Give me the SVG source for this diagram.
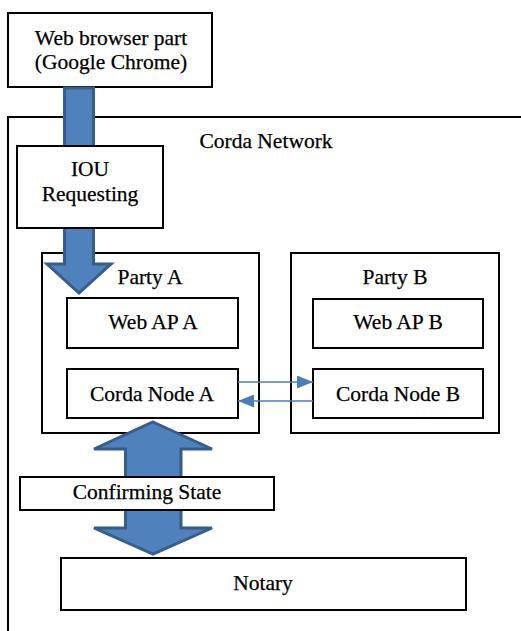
<svg xmlns="http://www.w3.org/2000/svg" width="521" height="631" viewBox="0 0 521 631">
  <style>
    .box { fill: #ffffff; stroke: #000000; stroke-width: 2; }
    .frame { fill: none; stroke: #000000; stroke-width: 2; }
    .lbl { font-size: 21.5px; fill: #000000; stroke: #000000; stroke-width: 0.25; text-anchor: middle; }
    .block { fill: #4F81BD; stroke: #385D8A; stroke-width: 3; stroke-linejoin: miter; }
    .link { stroke: #4A7EBB; stroke-width: 1.6; fill: none; }
  </style>
  <defs>
    <marker id="head" markerUnits="userSpaceOnUse" markerWidth="16" markerHeight="13" refX="16" refY="6.5" orient="auto">
      <path d="M0,0 L16,6.5 L0,13 Z" fill="#4A7EBB"/>
    </marker>
  </defs>

  <g font-family="Liberation Serif, Times New Roman, serif">
  <!-- Corda Network frame (runs off the right and bottom edges) -->
  <g id="corda-network">
    <rect class="frame" x="8" y="117" width="540" height="540"/>
    <text class="lbl" x="266" y="148">Corda Network</text>
  </g>

  <g id="web-browser">
    <rect class="box" x="8" y="13" width="204" height="74"/>
    <text class="lbl" x="111" y="45">Web browser part</text>
    <text class="lbl" x="111" y="69">(Google Chrome)</text>
  </g>

  <g id="party-a">
    <rect class="box" x="42" y="253" width="217" height="180"/>
    <text class="lbl" x="150" y="284">Party A</text>
  </g>

  <g id="party-b">
    <rect class="box" x="291" y="253" width="208" height="180"/>
    <text class="lbl" x="395" y="284">Party B</text>
  </g>

  <g id="web-ap-a">
    <rect class="box" x="67" y="298" width="171" height="50"/>
    <text class="lbl" x="153" y="329">Web AP A</text>
  </g>

  <g id="web-ap-b">
    <rect class="box" x="313" y="299" width="170" height="49"/>
    <text class="lbl" x="398" y="329">Web AP B</text>
  </g>

  <g id="corda-node-a">
    <rect class="box" x="67" y="369" width="171" height="49"/>
    <text class="lbl" x="152" y="401">Corda Node A</text>
  </g>

  <g id="corda-node-b">
    <rect class="box" x="313" y="369" width="170" height="49"/>
    <text class="lbl" x="398" y="401">Corda Node B</text>
  </g>

  <g id="connectors">
    <!-- request flow from the browser down into Party A -->
    <polygon class="block" points="64.5,88 93.5,88 93.5,264 111,264 79,293 47,264 64.5,264"/>
    <!-- two-way exchange between Party A and the Notary -->
    <polygon class="block" points="153,422 212,449 181,449 181,528 212,528 153,554 94,528 125.5,528 125.5,449 94,449"/>
    <!-- node-to-node messages -->
    <line class="link" x1="238" y1="382" x2="313" y2="382" marker-end="url(#head)"/>
    <line class="link" x1="313" y1="401" x2="238" y2="401" marker-end="url(#head)"/>
  </g>

  <g id="iou-requesting">
    <rect class="box" x="17" y="146" width="146" height="82"/>
    <text class="lbl" x="90" y="176">IOU</text>
    <text class="lbl" x="90" y="201">Requesting</text>
  </g>

  <g id="confirming-state">
    <rect class="box" x="20" y="477" width="254" height="33"/>
    <text class="lbl" x="147" y="499">Confirming State</text>
  </g>

  <g id="notary">
    <rect class="box" x="61" y="558" width="405" height="52"/>
    <text class="lbl" x="263" y="590">Notary</text>
  </g>
  </g>
</svg>
